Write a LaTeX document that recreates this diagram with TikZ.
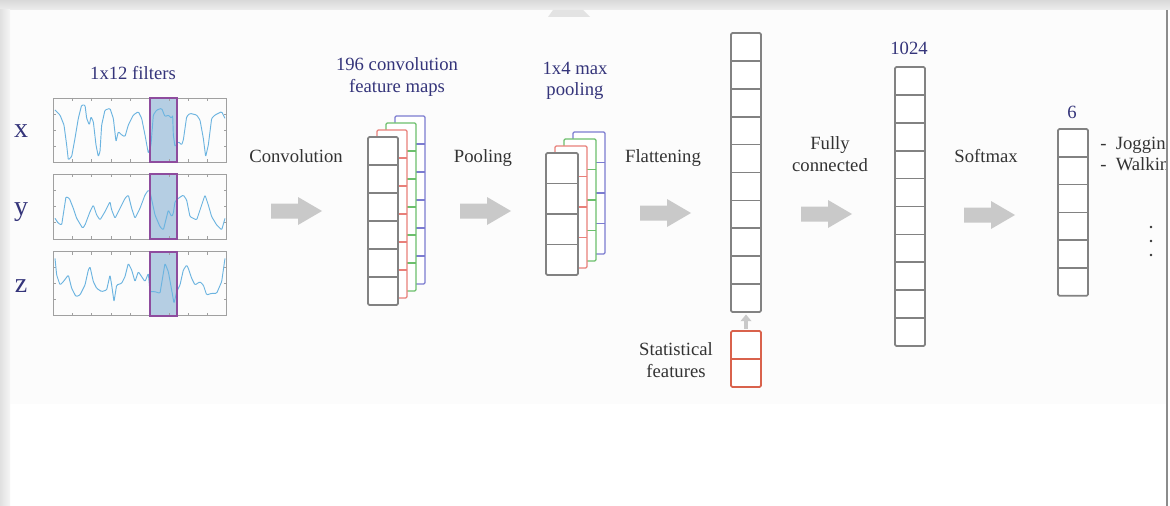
\documentclass[tikz,border=0pt]{standalone}
\usepackage{fontspec}
\setmainfont{Liberation Serif}
\usetikzlibrary{arrows.meta}

\definecolor{txt}{HTML}{333333}
\definecolor{navy}{HTML}{34347A}
\definecolor{cellgray}{HTML}{828282}
\definecolor{layred}{HTML}{E8807A}
\definecolor{laygreen}{HTML}{6CBF6C}
\definecolor{layblue}{HTML}{7C7CD0}
\definecolor{statred}{HTML}{D9624C}
\definecolor{arrowgray}{HTML}{C9C9C9}
\definecolor{signal}{HTML}{6CB4E0}
\definecolor{winfill}{HTML}{B5CEE3}
\definecolor{winedge}{HTML}{8E4C9E}
\definecolor{panelgray}{HTML}{A0A0A0}

\tikzset{
  lbl/.style={text=txt, font=\fontsize{14}{16.5}\selectfont, inner sep=0pt, align=center},
  toplbl/.style={text=navy, font=\fontsize{14}{16}\selectfont, inner sep=0pt, align=center},
  axislbl/.style={text=navy, font=\fontsize{21}{24}\selectfont, inner sep=0pt},
  classlbl/.style={text=txt, font=\fontsize{14}{16}\selectfont, inner sep=0pt, anchor=base west},
  cellline/.style={line width=1.3pt, fill=white, rounded corners=1pt},
  layerline/.style={line width=0.9pt, fill=white, rounded corners=1pt},
  panel/.style={draw=panelgray, line width=0.6pt},
  wave/.style={draw=signal, line width=0.7pt, line join=round, rounded corners=0.8pt},
  window/.style={draw=winedge, line width=1.6pt, fill=winfill},
  fatarrow/.pic={\fill[arrowgray] (0,-7.5) -- (27,-7.5) -- (27,-14) -- (51,0)
                  -- (27,14) -- (27,7.5) -- (0,7.5) -- cycle;}
}

% column of stacked cells: colour, style, left x, top y, width, cell height, count
\newcommand{\cellcolumn}[7]{%
  \filldraw[#2, draw=#1] (#3,#4) rectangle ({#3+#5},{#4+#7*#6});
  \foreach \ci in {1,...,#7}{%
    \ifnum\ci<#7\relax
      \draw[#2, draw=#1, rounded corners=0pt] (#3,{#4+\ci*#6}) -- ({#3+#5},{#4+\ci*#6});
    \fi}%
}
% feature-map stack of four layers: left x, top y, width, cell height, count
\newcommand{\mapstack}[5]{%
  \cellcolumn{layblue}{layerline}{#1+27}{#2-21}{#3}{#4}{#5}
  \cellcolumn{laygreen}{layerline}{#1+18}{#2-14}{#3}{#4}{#5}
  \cellcolumn{layred}{layerline}{#1+9}{#2-7}{#3}{#4}{#5}
  \cellcolumn{cellgray}{cellline}{#1}{#2}{#3}{#4}{#5}
}
% signal panel with small inner ticks: top y, bottom y
\newcommand{\sigpanel}[2]{%
  \draw[panel] (53,#1) rectangle (226.5,#2);
  \foreach \tx in {72.3,91.6,...,210}{%
    \draw[panelgray, line width=0.4pt] (\tx,#1) -- ++(0,3) (\tx,#2) -- ++(0,-3);}
  \foreach \ty in {1,2,3}{%
    \draw[panelgray, line width=0.4pt] (53,{#1+\ty*(#2-#1)/4}) -- ++(3,0)
          (226.5,{#1+\ty*(#2-#1)/4}) -- ++(-3,0);}
}

\begin{document}
\begin{tikzpicture}[x=0.75pt, y=-0.75pt]
\useasboundingbox (0,0) rectangle (1170,506);

% window background and frame
\fill[white] (0,0) rectangle (1170,506);
\fill[black!1] (10,10) rectangle (1166,404);
\shade[top color=black!15, bottom color=black!7] (0,0) rectangle (1170,10);
\shade[left color=black!12, right color=black!4] (0,10) rectangle (10,506);
\fill[black!11] (553,10) -- (583,10) -- (590,17) -- (548,17) -- cycle;

% ---------------- input signals ----------------
\node[toplbl] (filt) at (133,73) {1x12 filters};
\node[axislbl, anchor=base] (lx) at (21,138) {x};
\node[axislbl, anchor=base] (ly) at (21,215) {y};
\node[axislbl, anchor=base] (lz) at (21,292) {z};

\fill[winfill] (150,98) rectangle (176.7,162.3);
\fill[winfill] (150,174) rectangle (176.7,239);
\fill[winfill] (150,251.7) rectangle (176.7,315.7);

\sigpanel{98}{162.3}
\sigpanel{174}{239}
\sigpanel{251.7}{315.7}

\begin{scope}[shift={(40,85)}, scale=1/3]
\draw[wave] (45,75) -- (60,90) -- (72,120) -- (80,180) -- (85,225) -- (95,215) -- (105,160) -- (115,100) -- (125,60) -- (135,60) -- (140,100) -- (148,120) -- (153,95) -- (160,110) -- (168,180) -- (175,215) -- (180,200) -- (185,120) -- (195,75) -- (210,70) -- (220,100) -- (228,170) -- (235,140) -- (245,150) -- (255,155) -- (265,120) -- (280,90) -- (295,80) -- (305,100) -- (315,150) -- (325,205) -- (333,180) -- (340,90) -- (350,75) -- (365,70) -- (375,95) -- (385,90) -- (395,100) -- (398,90) -- (400,150) -- (405,185) -- (415,170) -- (425,180) -- (430,165) -- (440,95) -- (450,85) -- (470,90) -- (480,105) -- (490,160) -- (497,215) -- (505,180) -- (515,100) -- (525,90) -- (545,80) -- (555,100);
\draw[wave] (45,400) -- (55,415) -- (65,420) -- (78,335) -- (88,340) -- (100,370) -- (110,400) -- (128,430) -- (135,420) -- (150,380) -- (160,360) -- (170,390) -- (180,405) -- (195,380) -- (210,350) -- (215,375) -- (225,400) -- (235,380) -- (255,340) -- (265,330) -- (275,370) -- (285,400) -- (300,370) -- (315,330) -- (325,315) -- (330,320) -- (345,390) -- (360,425) -- (370,435) -- (380,395) -- (385,375) -- (395,395) -- (400,385) -- (405,350) -- (415,340) -- (430,330) -- (440,345) -- (450,395) -- (460,400) -- (470,405) -- (485,360) -- (495,330) -- (505,360) -- (515,395) -- (530,420) -- (545,435) -- (555,400);
\draw[wave] (45,520) -- (50,570) -- (60,600) -- (70,590) -- (85,570) -- (95,610) -- (108,635) -- (120,630) -- (135,600) -- (145,555) -- (150,545) -- (160,590) -- (170,610) -- (185,620) -- (200,615) -- (210,570) -- (215,600) -- (222,650) -- (230,600) -- (245,595) -- (255,575) -- (265,535) -- (275,555) -- (285,590) -- (295,560) -- (305,575) -- (315,590) -- (325,565) -- (330,620) -- (345,620) -- (360,625) -- (375,535) -- (385,560) -- (395,615) -- (402,655) -- (410,620) -- (420,600) -- (430,555) -- (440,540) -- (445,550) -- (455,580) -- (465,600) -- (480,590) -- (490,600) -- (500,630) -- (515,625) -- (530,625) -- (545,590) -- (555,520);
\end{scope}

\draw[winedge, line width=1.6pt] (150,98) rectangle (176.7,162.3);
\draw[winedge, line width=1.6pt] (150,174) rectangle (176.7,239);
\draw[winedge, line width=1.6pt] (150,251.7) rectangle (176.7,315.7);

% ---------------- convolution ----------------
\node[lbl, anchor=base] (conv) at (296,162) {Convolution};
\pic at (271,211) {fatarrow};
\node[toplbl] (convmaps) at (397,77) {196 convolution\\feature maps};
\mapstack{368}{137}{30}{28}{6}

% ---------------- pooling ----------------
\node[lbl, anchor=base] (pool) at (483,162) {Pooling};
\pic at (460,211) {fatarrow};
\node[toplbl] (poolmaps) at (575,81) {1x4 max\\pooling};
\mapstack{546}{153}{32}{30.5}{4}

% ---------------- flattening ----------------
\node[lbl, anchor=base] (flat) at (663,163) {Flattening};
\pic at (640,213) {fatarrow};
\cellcolumn{cellgray}{cellline}{731}{33}{30}{27.9}{10}
\cellcolumn{statred}{cellline}{731}{331}{30}{28}{2}
\node[lbl] (stat) at (676,360) {Statistical\\features};
\coordinate (flatbot) at (746,314.5);
\coordinate (stattop) at (746,328.5);
\draw[arrowgray, line width=2.6pt, -{Triangle[length=5pt,width=8pt]}] (stattop) -- (flatbot);

% ---------------- fully connected ----------------
\node[lbl] (fc) at (830,154) {Fully\\connected};
\pic at (801,214) {fatarrow};
\node[toplbl, anchor=base] (n1024) at (909,55) {1024};
\cellcolumn{cellgray}{cellline}{895}{67}{30}{27.9}{10}

% ---------------- softmax ----------------
\node[lbl, anchor=base] (soft) at (986,162) {Softmax};
\pic at (964,215) {fatarrow};
\node[toplbl, anchor=base] (n6) at (1072,119) {6};
\cellcolumn{cellgray}{cellline}{1058}{129}{30}{27.8}{6}

% class names run under the window's right edge
\begin{scope}
\clip (0,0) rectangle (1166,506);
\node[classlbl] (jog) at (1100,150) {-\enspace Jogging};
\node[classlbl] (walk) at (1100,171) {-\enspace Walking};
\end{scope}
\foreach \dy in {227,241,255}{\fill[txt] (1151,\dy) circle (1.3);}

% right frame edge
\draw[black!45, line width=1.5pt] (1167,10) -- (1167,506);
\end{tikzpicture}
\end{document}
